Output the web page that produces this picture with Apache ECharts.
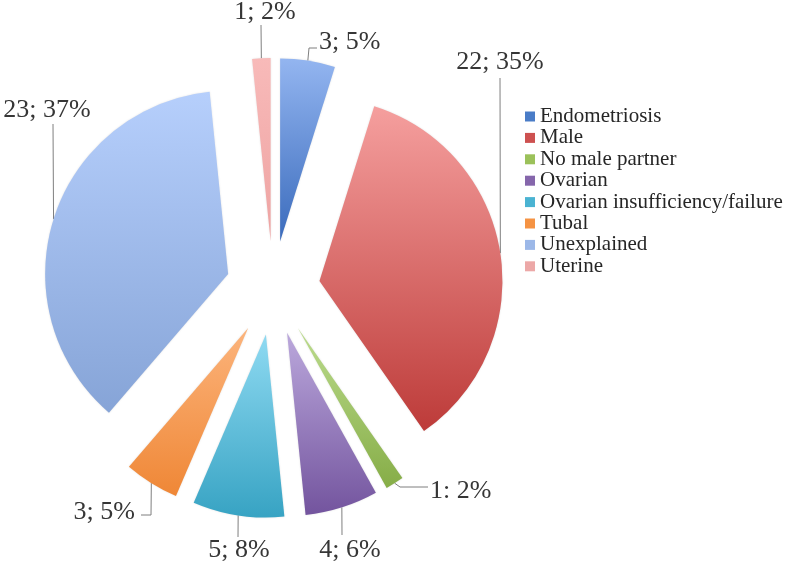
<!DOCTYPE html>
<html>
<head>
<meta charset="utf-8">
<script src="https://cdn.jsdelivr.net/npm/echarts@6/dist/echarts.min.js"></script>
<style>
html,body{margin:0;padding:0;background:#fff;}
#chart{width:786px;height:564px;}
</style>
</head>
<body>
<div id="chart"></div>
<script>
// ---- data ----
const categories = ['Endometriosis','Male','No male partner','Ovarian','Ovarian insufficiency/failure','Tubal','Unexplained','Uterine'];
const counts = [3, 22, 1, 4, 5, 3, 23, 1];
const labelTexts = ['3; 5%','22; 35%','1: 2%','4; 6%','5; 8%','3; 5%','23; 37%','1; 2%'];

// ---- styles ----
const fontFam = "'Liberation Serif', 'Times New Roman', 'DejaVu Serif', serif";
const colorTop    = ['#93b5f0','#f59f9e','#bcdc8e','#bba8dc','#8fdaf2','#fcb47c','#b6cffc','#f8bab9'];
const colorBottom = ['#3a6bbc','#bd3b39','#86ad47','#73549e','#37a3c3','#ef8736','#86a4d7','#eea3a2'];
const legendColor = ['#4a7cc7','#cd5150','#9bc15a','#8566ab','#4ab3d2','#f59343','#9cb8e8','#eca8a7'];
// label placement (x, y, align) and line bend points, per category order
const labelPlace = [
  {x:319, y:42,  align:'left',   pts:[[309,48],[317,48]]},
  {x:500, y:62,  align:'center', pts:[[500,78]]},
  {x:430, y:491, align:'left',   pts:[[400,487],[428,487]]},
  {x:350, y:550, align:'center', pts:[[342,535]]},
  {x:239, y:550, align:'center', pts:[[238,537]]},
  {x:135, y:512, align:'right',  pts:[[151,515],[141,515]]},
  {x:47,  y:110, align:'center', pts:[[53,124]]},
  {x:265, y:12,  align:'center', pts:[[261,25]]}
];

// ---- layout ----
const pieCenter = [273, 288];
const pieRadius = 183;
const explode = 47;

const total = counts.reduce((a, b) => a + b, 0);
let cum = 0;
const midAngles = counts.map(v => { const m = (cum + v / 2) / total * Math.PI * 2; cum += v; return m; });

const transparent = 'rgba(0,0,0,0)';
const series = categories.map((cat, s) => ({
  type: 'pie',
  name: cat,
  center: [pieCenter[0] + explode * Math.sin(midAngles[s]), pieCenter[1] - explode * Math.cos(midAngles[s])],
  radius: pieRadius,
  startAngle: 90,
  clockwise: true,
  avoidLabelOverlap: false,
  silent: true,
  emphasis: {disabled: true},
  label: {
    show: true,
    formatter: p => labelTexts[p.dataIndex],
    fontFamily: fontFam,
    fontSize: 26,
    color: '#363636'
  },
  labelLine: {show: true, length: 10, length2: 10, lineStyle: {color: '#7f7f7f', width: 1}},
  labelLayout: function (params) {
    if (params.dataIndex !== s) return {};
    const lp = labelPlace[params.dataIndex];
    const start = params.labelLinePoints ? params.labelLinePoints[0] : lp.pts[0];
    return {
      x: lp.x, y: lp.y, align: lp.align, verticalAlign: 'middle',
      labelLinePoints: [start].concat(lp.pts)
    };
  },
  data: categories.map((name, i) => i === s ? {
    name: name,
    value: counts[i],
    itemStyle: {
      color: new echarts.graphic.LinearGradient(0, 0, 0, 1, [
        {offset: 0, color: colorTop[i]},
        {offset: 1, color: colorBottom[i]}
      ]),
      shadowBlur: 2,
      shadowColor: 'rgba(0,0,0,0.12)'
    }
  } : {
    name: name,
    value: counts[i],
    itemStyle: {color: transparent},
    label: {show: false},
    labelLine: {show: false}
  })
}));

const chart = echarts.init(document.getElementById('chart'), null, {renderer:'canvas'});
chart.setOption({
  animation: false,
  backgroundColor: '#ffffff',
  legend: {
    orient: 'vertical',
    left: 520,
    top: 101,
    itemWidth: 10,
    itemHeight: 10,
    itemGap: 0.4,
    icon: 'rect',
    selectedMode: false,
    textStyle: {fontFamily: fontFam, fontSize: 21, lineHeight: 21, color: '#262626'},
    data: categories.map((n, i) => ({name: n, itemStyle: {color: legendColor[i]}}))
  },
  series: series
});
</script>
</body>
</html>
